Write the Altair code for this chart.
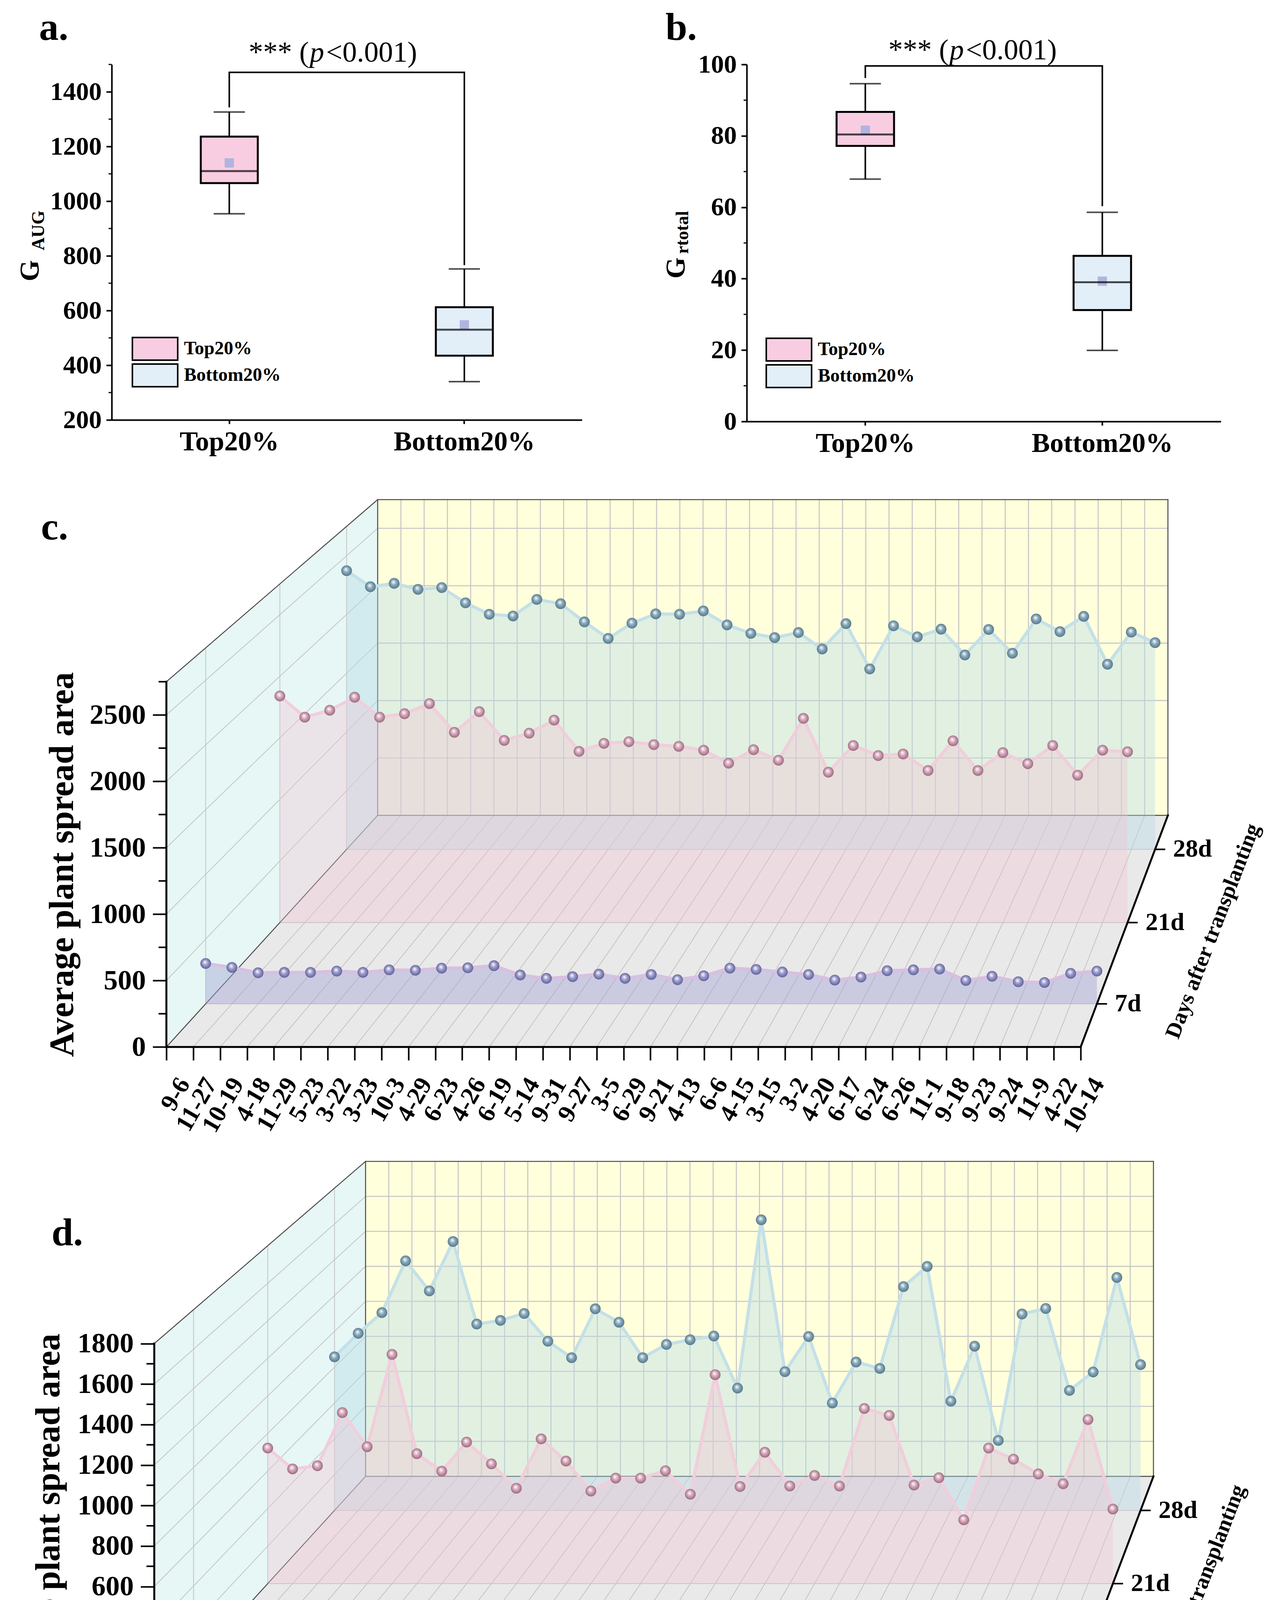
import json
import pandas as pd
import altair as alt

FONT = "Liberation Serif"

# ---------------- data: panels a and b (box summaries) ----------------
GROUPS = ["Top20%", "Bottom20%"]
GROUP_FILL = ["#f8cde1", "#e2eef8"]
MEAN_FILL = "#b1b4de"

A_LOW = [954, 340]
A_Q1 = [1066, 435]
A_MED = [1110, 530]
A_Q3 = [1236, 612]
A_HIGH = [1326, 752]
A_MEAN = [1140, 548]
A_BRACKET = [1343, 1471, 1471, 766]
A_TICKS = [200, 400, 600, 800, 1000, 1200, 1400]
A_MINOR = [300, 500, 700, 900, 1100, 1300, 1500]

B_LOW = [67.9, 19.9]
B_Q1 = [77.2, 31.2]
B_MED = [80.4, 39.0]
B_Q3 = [86.7, 46.4]
B_HIGH = [94.6, 58.6]
B_MEAN = [81.6, 39.3]
B_BRACKET = [96.2, 99.6, 99.6, 60.3]
B_TICKS = [0, 20, 40, 60, 80, 100]
B_MINOR = [10, 30, 50, 70, 90]

# ---------------- data: panels c and d ----------------
DAYS = ["7d", "21d", "28d"]

C_VARIETY = ["9-6", "11-27", "10-19", "4-18", "11-29", "5-23", "3-22", "3-23", "10-3", "4-29",
             "6-23", "4-26", "6-19", "5-14", "9-31", "9-27", "3-5", "6-29", "9-21", "4-13",
             "6-6", "4-15", "3-15", "3-2", "4-20", "6-17", "6-24", "6-26", "11-1", "9-18",
             "9-23", "9-24", "11-9", "4-22", "10-14"]
C_7D = [312, 282, 240, 243, 243, 253, 243, 263, 259, 276, 279, 295, 223, 197, 210, 230, 197, 227,
        187, 217, 276, 266, 246, 227, 184, 207, 256, 263, 269, 181, 213, 171, 165, 236, 253]
C_21D = [1840, 1668, 1724, 1830, 1668, 1696, 1778, 1545, 1713, 1479, 1538, 1644, 1390, 1455, 1469,
         1445, 1431, 1400, 1294, 1404, 1318, 1658, 1221, 1438, 1356, 1369, 1235, 1476, 1235, 1380,
         1290, 1438, 1197, 1400, 1387]
C_28D = [2373, 2236, 2265, 2214, 2229, 2099, 2002, 1987, 2128, 2092, 1937, 1796, 1926, 2005, 2002,
         2030, 1911, 1839, 1803, 1846, 1706, 1922, 1536, 1904, 1810, 1875, 1655, 1872, 1670, 1962,
         1854, 1984, 1576, 1850, 1760]
C_TICKS = [0, 500, 1000, 1500, 2000, 2500]
C_MINOR = [250, 750, 1250, 1750, 2250, 2750]

D_VARIETY = ["10-18", "5-16", "9-4", "5-27", "3-11", "3-21", "9-11", "9-9", "10-26", "11-12",
             "9-12", "3-27", "5-26", "3-12", "9-14", "5-11", "4-2", "6-2", "3-24", "6-1",
             "6-5", "11-5", "10-17", "9-1", "11-8", "11-18", "9-13", "5-10", "11-3", "6-3",
             "9-2", "11-6", "9-10", "3-19", "3-29"]
D_7D = [238, 165, 128, 200, 132, 228, 184, 160, 163, 104, 100, 146, 118, 137, 125, 102, 240, 196,
        177, 179, 188, 200, 177, 109, 132, 144, 175, 151, 123, 146, 83, 270, 100, 114, 156]
D_21D = [722, 611, 628, 911, 729, 1221, 692, 599, 754, 638, 508, 771, 653, 493, 562, 562, 601, 476,
         1113, 517, 700, 520, 576, 520, 933, 896, 525, 564, 340, 722, 663, 584, 532, 874, 397]
D_28D = [858, 989, 1105, 1394, 1226, 1502, 1041, 1061, 1100, 945, 853, 1126, 1051, 853, 927, 953,
         974, 683, 1623, 775, 971, 600, 829, 793, 1250, 1363, 610, 917, 391, 1097, 1128, 670, 773,
         1301, 814]
D_TICKS = [0, 200, 400, 600, 800, 1000, 1200, 1400, 1600, 1800]
D_MINOR = [100, 300, 500, 700, 900, 1100, 1300, 1500, 1700]

# ---------------- layout / style ----------------
LOWER_LEFT = 286         # page x where the plot areas of c and d start
VANISH = 7.37            # perspective: vanishing point distance, in floor depths
EDGE = (541, 593)        # screen offset (px) of one full floor depth at the front
DEPTH_AT = {"7d": 0.186, "21d": 0.537, "28d": 0.853}

STYLE = {
    "28d": dict(area="#b7dbe8", op=0.42, line="#c4e0e8", ball="#86a8ba", dark="#4d6f80"),
    "21d": dict(area="#f1c3d4", op=0.36, line="#f1cedb", ball="#d5a6ba", dark="#8e5f72"),
    "7d": dict(area="#a3a3d6", op=0.45, line="#d8c0e0", ball="#9a9acb", dark="#575790"),
}


def ball(base, dark):
    return {"gradient": "radial", "x1": 0.42, "y1": 0.36, "r1": 0, "x2": 0.5, "y2": 0.5, "r2": 0.56,
            "stops": [{"offset": 0, "color": "#ffffff"},
                      {"offset": 0.45, "color": base},
                      {"offset": 1, "color": dark}]}


def txt(s, x, y, size, align="left", baseline="alphabetic", angle=0, weight="bold", style="normal"):
    return alt.Chart(pd.DataFrame({"s": [s]})).mark_text(
        align=align, baseline=baseline, angle=angle, fontSize=size, fontWeight=weight,
        fontStyle=style, color="black"
    ).encode(x=alt.value(x), y=alt.value(y), text="s:N")


def box_panel(low, q1, med, q3, high, mean, bracket, domain, ticks, minor, width, height,
              letter, letter_at, sub, g_at, sub_at, p_at, legend_at):
    df = pd.DataFrame(dict(group=GROUPS, low=low, q1=q1, med=med, q3=q3, high=high, mean=mean))
    xs = alt.Scale(domain=GROUPS, paddingInner=0.7575, paddingOuter=0.379)
    xax = alt.Axis(title=None, labelAngle=0, labelFontSize=70, labelFontWeight="bold",
                   labelLimit=0, labelPadding=12, tickSize=10, tickWidth=4, domainWidth=4,
                   grid=False)
    ys = alt.Scale(domain=domain, nice=False, zero=False)
    yax = alt.Axis(title=None, values=ticks, format="d", labelFontSize=66, labelFontWeight="bold",
                   labelLimit=0, labelPadding=12, tickSize=14, tickWidth=4, domainWidth=4,
                   grid=False)

    def X():
        return alt.X("group:N", scale=xs, axis=xax, sort=GROUPS)

    def Y(f):
        return alt.Y(f"{f}:Q", scale=ys, axis=yax)

    base = alt.Chart(df)
    whisker = base.mark_rule(color="black", strokeWidth=4).encode(x=X(), y=Y("low"), y2="high:Q")
    caps = [base.mark_tick(color="black", size=80, thickness=4).encode(x=X(), y=Y(f))
            for f in ("low", "high")]
    box = base.mark_bar(stroke="black", strokeWidth=5, opacity=1).encode(
        x=X(), y=Y("q3"), y2="q1:Q",
        color=alt.Color("group:N", scale=alt.Scale(domain=GROUPS, range=GROUP_FILL),
                        legend=alt.Legend(title=None, orient="none", legendX=legend_at[0],
                                          legendY=legend_at[1], padding=0,
                                          symbolType="M-2,-1H2V1H-2Z", symbolSize=3364,
                                          symbolStrokeColor="black", symbolStrokeWidth=4,
                                          symbolOpacity=1, labelFontSize=48, labelLimit=0,
                                          labelFontWeight="bold", labelOffset=43, rowPadding=-9)))
    mean_pt = base.mark_square(size=560, color=MEAN_FILL, opacity=1).encode(x=X(), y=Y("mean"))
    median = base.mark_tick(color="black", size=146, thickness=5).encode(x=X(), y=Y("med"))
    minor_t = alt.Chart(pd.DataFrame({"v": minor})).mark_rule(color="black", strokeWidth=3).encode(
        x=alt.value(0), x2=alt.value(-8), y=Y("v"))
    br = alt.Chart(pd.DataFrame({"group": [GROUPS[0], GROUPS[0], GROUPS[1], GROUPS[1]],
                                 "v": bracket, "k": [0, 1, 2, 3]})).mark_line(
        color="black", strokeWidth=4).encode(x=X(), y=Y("v"), order="k:Q")
    notes = [
        txt("*** (", p_at[0] - 2, p_at[1], 74, align="right", weight="normal"),
        txt("p", p_at[0], p_at[1], 74, weight="normal", style="italic"),
        txt("<0.001)", p_at[0] + 42, p_at[1], 74, weight="normal"),
        txt(letter, letter_at[0], letter_at[1], 100),
        txt("G", g_at[0], g_at[1], 70, align="center", baseline="middle", angle=270),
        txt(sub, sub_at[0], sub_at[1], 46, align="center", baseline="middle", angle=270),
    ]
    return alt.layer(whisker, *caps, box, mean_pt, median, minor_t, br, *notes).properties(
        width=width, height=height)


def panel3d(names, values, vmax, ticks, minor, ky, dxf, origin_x, xmax, ymax,
            letter, letter_at, title_x, xtitle=None):
    n = len(names) - 1
    ex = EDGE[0] / dxf
    ey = EDGE[1] / ky
    xmin = (LOWER_LEFT - origin_x) / dxf
    width = (xmax - xmin) * dxf
    height = ymax * ky

    def px(i, t):
        return f"({i})*(1-({t})/{VANISH})+({t})*{ex}"

    def py(v, t):
        return f"({v})*(1-({t})/{VANISH})+({t})*{ey}"

    xs = alt.Scale(domain=[xmin, xmax], nice=False, zero=False)
    ys = alt.Scale(domain=[0, ymax], nice=False, zero=False)
    xkw = dict(title=xtitle)
    if xtitle:
        xkw.update(titleX=1560 - LOWER_LEFT, titleY=326, titleAlign="center",
                   titleBaseline="alphabetic", titleFontSize=90, titleFontWeight="bold")
    xax = alt.Axis(values=list(range(n + 1)), labelExpr=f"{json.dumps(names)}[round(datum.value)]",
                   domain=False, grid=False, tickSize=34, tickWidth=4, labelAngle=300,
                   labelAlign="right", labelBaseline="middle", labelFontSize=64, labelLimit=0,
                   labelFontWeight="bold", labelPadding=50, labelOffset=45, labelOverlap=False,
                   labelFlush=False, **xkw)
    yax = alt.Axis(values=ticks, format="d", domain=False, grid=False,
                   offset=-(origin_x - LOWER_LEFT), labelLimit=0,
                   tickSize=35, tickWidth=4, labelFontSize=72, labelFontWeight="bold",
                   labelPadding=18, title="Average plant spread area", titleFontSize=88,
                   titleFontWeight="bold", titleAngle=270, titleX=title_x,
                   titleY=height - (vmax / 2) * ky, titleAlign="center", titleBaseline="middle")

    def X(f="x"):
        return alt.X(f"{f}:Q", scale=xs, axis=xax)

    def Y(f="y"):
        return alt.Y(f"{f}:Q", scale=ys, axis=yax)

    def rules(rows, color, w):
        df = pd.DataFrame(rows, columns=["i1", "v1", "t1", "i2", "v2", "t2"])
        return alt.Chart(df).transform_calculate(
            x=px("datum.i1", "datum.t1"), y=py("datum.v1", "datum.t1"),
            x2=px("datum.i2", "datum.t2"), y2=py("datum.v2", "datum.t2")
        ).mark_rule(color=color, strokeWidth=w, strokeCap="square").encode(
            x=X(), y=Y(), x2="x2:Q", y2="y2:Q")

    depths = [DEPTH_AT[d] for d in DAYS]

    back = alt.Chart(pd.DataFrame({"i1": [0], "v1": [0], "i2": [n], "v2": [vmax], "t": [1]})
                     ).transform_calculate(
        x=px("datum.i1", "datum.t"), y=py("datum.v1", "datum.t"),
        x2=px("datum.i2", "datum.t"), y2=py("datum.v2", "datum.t")
    ).mark_rect(color="#ffffdc").encode(x=X(), y=Y(), x2="x2:Q", y2="y2:Q")
    side = alt.Chart(pd.DataFrame({"t": [0, 1]})).transform_calculate(
        x=px("0", "datum.t"), y=py(str(vmax), "datum.t"), y2=py("0", "datum.t")
    ).mark_area(color="#e6f7f5", opacity=1).encode(x=X(), y=Y(), y2="y2:Q")
    floor = alt.Chart(pd.DataFrame({"t": [0, 1]})).transform_calculate(
        x=px("0", "datum.t"), x2=px(str(n), "datum.t"), y=py("0", "datum.t")
    ).mark_area(color="#e9e9e9", opacity=1, orient="horizontal").encode(y=Y(), x=X(), x2="x2:Q")

    back_grid = [(i, 0, 1, i, vmax, 1) for i in range(n + 1)] + [(0, v, 1, n, v, 1) for v in ticks]
    other_grid = []
    other_grid += [(0, v, 0, 0, v, 1) for v in ticks]
    other_grid += [(0, 0, t, 0, vmax, t) for t in depths]
    other_grid += [(i, 0, 0, i, 0, 1) for i in range(n + 1)]
    other_grid += [(0, 0, t, n, 0, t) for t in depths]
    edges = [(0, vmax, 0, 0, vmax, 1), (0, 0, 0, 0, 0, 1), (0, vmax, 1, n, vmax, 1),
             (n, 0, 1, n, vmax, 1), (0, 0, 1, 0, vmax, 1), (0, 0, 1, n, 0, 1)]
    axes = [(0, 0, 0, 0, vmax, 0), (0, 0, 0, n, 0, 0), (n, 0, 0, n, 0, 1)]

    layers = [back, side, floor, rules(back_grid, "#c6c6c6", 2.6),
              rules(other_grid, "#c4bebe", 1.8), rules(edges, "#4a4a4a", 2.4)]

    for day in reversed(DAYS):
        st = STYLE[day]
        df = pd.DataFrame({"i": list(range(n + 1)), "v": values[day], "t": DEPTH_AT[day]})
        base = alt.Chart(df).transform_calculate(
            x=px("datum.i", "datum.t"), y=py("datum.v", "datum.t"), y0=py("0", "datum.t"))
        layers.append(base.mark_area(color=st["area"], opacity=st["op"]).encode(
            x=X(), y=Y(), y2="y0:Q"))
        layers.append(base.mark_line(color=st["line"], strokeWidth=8).encode(x=X(), y=Y()))
        layers.append(base.mark_circle(size=760, opacity=1, fill=ball(st["ball"], st["dark"]),
                                       strokeWidth=0).encode(x=X(), y=Y()))

    layers.append(rules(axes, "black", 5))
    layers.append(alt.Chart(pd.DataFrame({"v": minor})).transform_calculate(
        x="0", x2=f"{-20 / dxf}", y="datum.v"
    ).mark_rule(color="black", strokeWidth=4).encode(x=X(), x2="x2:Q", y=Y()))

    dd = pd.DataFrame({"lab": DAYS, "t": depths})
    dbase = alt.Chart(dd).transform_calculate(
        x=px(str(n), "datum.t"), y=py("0", "datum.t"),
        x2=f"datum.x + {26 / dxf}", xl=f"datum.x + {46 / dxf}")
    layers.append(dbase.mark_rule(color="black", strokeWidth=4).encode(x=X(), x2="x2:Q", y=Y()))
    layers.append(dbase.mark_text(align="left", baseline="middle", fontSize=64,
                                  fontWeight="bold", color="black").encode(
        x=X("xl"), y=Y(), text="lab:N"))
    layers.append(alt.Chart(pd.DataFrame({"lab": ["Days after transplanting"], "t": [0.5]})
                            ).transform_calculate(
        x=px(str(n), "datum.t") + f"+{227 / dxf}", y=py("0", "datum.t")
    ).mark_text(angle=291, fontSize=56, fontWeight="bold", align="center", baseline="middle",
                color="black").encode(x=X(), y=Y(), text="lab:N"))
    layers.append(txt(letter, letter_at[0] - LOWER_LEFT, letter_at[1], 100))

    return alt.layer(*layers).properties(width=width, height=height)


pa = box_panel(A_LOW, A_Q1, A_MED, A_Q3, A_HIGH, A_MEAN, A_BRACKET, [200, 1500], A_TICKS, A_MINOR,
               1204, 910, "a.", (-186, -63), "AUG", (-208, 528), (-187, 425), (507, -7), (80, 697))
pb = box_panel(B_LOW, B_Q1, B_MED, B_Q3, B_HIGH, B_MEAN, B_BRACKET, [0, 100], B_TICKS, B_MINOR,
               1214, 914, "b.", (-208, -63), "rtotal", (-180, 521), (-164, 430), (519, -13),
               (77, 699))

pc = panel3d(C_VARIETY, {"7d": C_7D, "21d": C_21D, "28d": C_28D}, 2750, C_TICKS, C_MINOR,
             935 / 2750, 2341 / 34, 426, 37.3, 4130, "c.", (105, 105), -266)
pdd = panel3d(D_VARIETY, {"7d": D_7D, "21d": D_21D, "28d": D_28D}, 1800, D_TICKS, D_MINOR,
              933 / 1800, 2334 / 34, 395, 37.3, 2700, "d.", (132, 215), -270, xtitle="Variety")

row1 = alt.hconcat(pa, pb, spacing=422, bounds="flush").resolve_scale(color="independent")
lower = alt.vconcat(pc, pdd, spacing=292, bounds="flush")

chart = alt.vconcat(row1, lower, spacing=106).properties(
    padding={"left": 35, "top": 14, "right": 10, "bottom": 10}
).configure_view(strokeWidth=0).configure_axis(
    labelFont=FONT, titleFont=FONT, labelColor="black", titleColor="black",
    tickColor="black", domainColor="black"
).configure_text(font=FONT).configure_legend(labelFont=FONT, labelColor="black")

chart.save("out.html", embed_options={"renderer": "svg", "actions": False})
